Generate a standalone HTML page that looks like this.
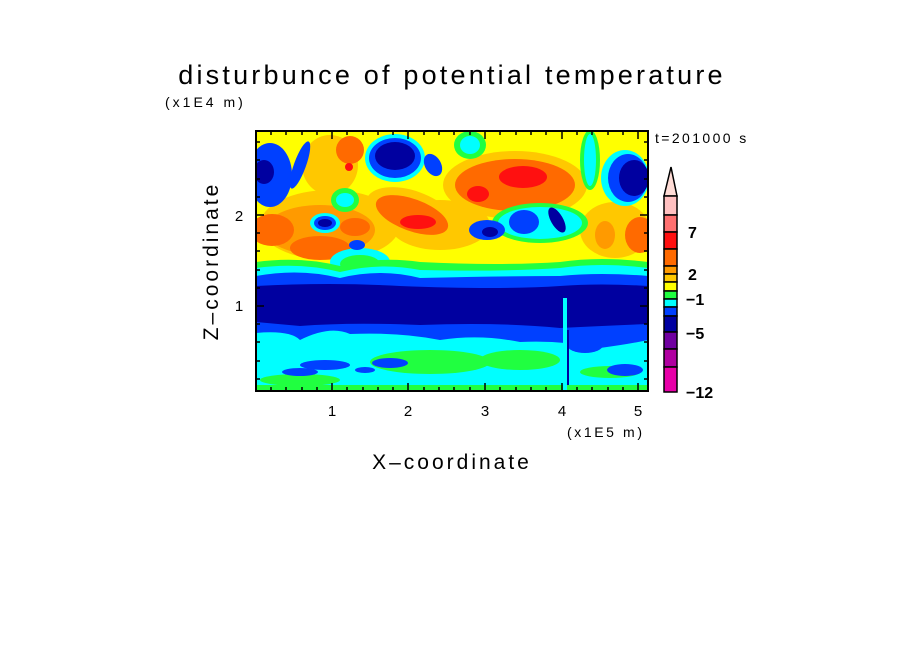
<!DOCTYPE html>
<html><head><meta charset="utf-8"><style>
body{margin:0;background:#fff;width:904px;height:654px;overflow:hidden}
svg{display:block}
text{font-family:"Liberation Sans","DejaVu Sans",sans-serif;fill:#000}
</style></head><body>
<svg width="904" height="654" viewBox="0 0 904 654">
<defs><clipPath id="c"><rect x="256" y="131" width="392" height="260"/></clipPath></defs>
<text x="452" y="84" font-size="27" text-anchor="middle" letter-spacing="3.2">disturbunce of potential temperature</text>
<text x="165" y="107" font-size="14" letter-spacing="3">(x1E4 m)</text>
<text x="655" y="143" font-size="14" letter-spacing="2.4">t=201000 s</text>
<g clip-path="url(#c)">
<rect x="256" y="131" width="392" height="260" fill="#ffff00"/>
<ellipse cx="330" cy="225" rx="70" ry="35" fill="#ffc800"/>
<ellipse cx="320" cy="230" rx="55" ry="25" fill="#ff9a00"/>
<ellipse cx="440" cy="225" rx="50" ry="25" fill="#ffc800"/>
<ellipse cx="615" cy="230" rx="35" ry="28" fill="#ffc800"/>
<ellipse cx="330" cy="165" rx="28" ry="30" fill="#ffc800"/>
<ellipse cx="515" cy="185" rx="72" ry="34" fill="#ffc800"/>
<ellipse cx="515" cy="185" rx="60" ry="26" fill="#ff6a00"/>
<ellipse cx="523" cy="177" rx="24" ry="11" fill="#ff1010"/>
<ellipse cx="478" cy="194" rx="11" ry="8" fill="#ff1010"/>
<ellipse cx="412" cy="215" rx="48" ry="24" fill="#ffc800" transform="rotate(20 412 215)"/>
<ellipse cx="412" cy="215" rx="38" ry="16" fill="#ff6a00" transform="rotate(20 412 215)"/>
<ellipse cx="418" cy="222" rx="18" ry="7" fill="#ff1010"/>
<ellipse cx="350" cy="150" rx="14" ry="14" fill="#ff6a00"/>
<ellipse cx="349" cy="167" rx="4" ry="4" fill="#ff1010"/>
<ellipse cx="395" cy="158" rx="30" ry="24" fill="#00ffff"/>
<ellipse cx="395" cy="158" rx="26" ry="20" fill="#0040ff"/>
<ellipse cx="395" cy="156" rx="20" ry="14" fill="#0000a0"/>
<ellipse cx="470" cy="145" rx="16" ry="14" fill="#20ff40"/>
<ellipse cx="470" cy="145" rx="10" ry="9" fill="#00ffff"/>
<ellipse cx="345" cy="200" rx="14" ry="12" fill="#20ff40"/>
<ellipse cx="345" cy="200" rx="9" ry="7" fill="#00ffff"/>
<ellipse cx="325" cy="223" rx="15" ry="10" fill="#00ffff"/>
<ellipse cx="325" cy="223" rx="11" ry="7" fill="#0040ff"/>
<ellipse cx="325" cy="223" rx="7" ry="4" fill="#0000a0"/>
<ellipse cx="272" cy="230" rx="22" ry="16" fill="#ff6a00"/>
<ellipse cx="320" cy="248" rx="30" ry="12" fill="#ff6a00"/>
<ellipse cx="355" cy="227" rx="15" ry="9" fill="#ff6a00"/>
<ellipse cx="270" cy="175" rx="22" ry="32" fill="#0040ff"/>
<ellipse cx="264" cy="172" rx="10" ry="12" fill="#0000a0"/>
<ellipse cx="300" cy="165" rx="6" ry="25" fill="#0040ff" transform="rotate(20 300 165)"/>
<ellipse cx="540" cy="223" rx="48" ry="20" fill="#20ff40"/>
<ellipse cx="540" cy="223" rx="42" ry="16" fill="#00ffff"/>
<ellipse cx="487" cy="230" rx="18" ry="10" fill="#0040ff"/>
<ellipse cx="490" cy="232" rx="8" ry="5" fill="#0000a0"/>
<ellipse cx="524" cy="222" rx="15" ry="12" fill="#0040ff"/>
<ellipse cx="557" cy="220" rx="6" ry="14" fill="#0000a0" transform="rotate(-30 557 220)"/>
<ellipse cx="433" cy="165" rx="8" ry="12" fill="#0040ff" transform="rotate(-30 433 165)"/>
<ellipse cx="625" cy="178" rx="24" ry="28" fill="#00ffff"/>
<ellipse cx="628" cy="178" rx="20" ry="24" fill="#0040ff"/>
<ellipse cx="634" cy="178" rx="15" ry="18" fill="#0000a0"/>
<ellipse cx="640" cy="235" rx="15" ry="18" fill="#ff6a00"/>
<ellipse cx="590" cy="160" rx="10" ry="30" fill="#20ff40"/>
<ellipse cx="590" cy="160" rx="6" ry="26" fill="#00ffff"/>
<ellipse cx="605" cy="235" rx="10" ry="14" fill="#ff9a00"/>
<ellipse cx="360" cy="262" rx="30" ry="14" fill="#00ffff"/>
<ellipse cx="360" cy="264" rx="20" ry="9" fill="#20ff40"/>
<ellipse cx="357" cy="245" rx="8" ry="5" fill="#0040ff"/>
<path d="M256 262 Q300 256 340 266 Q380 256 420 262 Q500 266 560 262 Q600 256 648 262 L648 391 L256 391Z" fill="#20ff40"/>
<path d="M256 268 Q300 262 340 272 Q380 262 420 270 Q500 272 560 268 Q600 262 648 268 L648 391 L256 391Z" fill="#00ffff"/>
<path d="M256 276 Q300 268 340 278 Q380 268 420 278 Q500 276 560 276 Q600 272 648 276 L648 391 L256 391Z" fill="#0040ff"/>
<path d="M256 286 Q330 282 400 286 Q500 290 560 286 Q600 283 648 286 L648 324 Q600 326 560 328 Q500 322 420 325 Q350 322 300 326 L256 322Z" fill="#0000a0"/>
<path d="M256 333 Q290 330 300 340 Q330 325 350 334 Q400 332 440 340 Q480 334 520 342 Q560 340 600 348 Q630 344 648 340 L648 391 L256 391Z" fill="#00ffff"/>
<ellipse cx="430" cy="362" rx="60" ry="12" fill="#20ff40"/>
<ellipse cx="520" cy="360" rx="40" ry="10" fill="#20ff40"/>
<ellipse cx="610" cy="372" rx="30" ry="6" fill="#20ff40"/>
<ellipse cx="300" cy="380" rx="40" ry="6" fill="#20ff40"/>
<rect x="256" y="385" width="392" height="6" fill="#20ff40"/>
<ellipse cx="325" cy="365" rx="25" ry="5" fill="#0040ff"/>
<ellipse cx="390" cy="363" rx="18" ry="5" fill="#0040ff"/>
<ellipse cx="300" cy="372" rx="18" ry="4" fill="#0040ff"/>
<ellipse cx="625" cy="370" rx="18" ry="6" fill="#0040ff"/>
<ellipse cx="585" cy="345" rx="18" ry="8" fill="#0040ff"/>
<ellipse cx="365" cy="370" rx="10" ry="3" fill="#0040ff"/>
<rect x="563" y="298" width="4" height="93" fill="#00ffff"/>
<rect x="567" y="330" width="2" height="55" fill="#0000a0"/>
</g>
<rect x="256" y="131" width="392" height="260" fill="none" stroke="#000" stroke-width="2"/>
<g stroke="#000" stroke-width="1.5">
<path d="M271 391v-4M286 391v-4M302 391v-4M317 391v-4M347 391v-4M363 391v-4M378 391v-4M393 391v-4M424 391v-4M439 391v-4M454 391v-4M470 391v-4M500 391v-4M516 391v-4M531 391v-4M546 391v-4M577 391v-4M592 391v-4M608 391v-4M623 391v-4"/>
<path d="M271 131v4M286 131v4M302 131v4M317 131v4M347 131v4M363 131v4M378 131v4M393 131v4M424 131v4M439 131v4M454 131v4M470 131v4M500 131v4M516 131v4M531 131v4M546 131v4M577 131v4M592 131v4M608 131v4M623 131v4"/>
<path d="M332 391v-8M408 391v-8M485 391v-8M562 391v-8M638 391v-8M332 131v8M408 131v8M485 131v8M562 131v8M638 131v8"/>
<path d="M256 379h4M256 361h4M256 342h4M256 324h4M256 288h4M256 270h4M256 251h4M256 233h4M256 197h4M256 179h4M256 160h4M256 142h4"/>
<path d="M648 379h-4M648 361h-4M648 342h-4M648 324h-4M648 288h-4M648 270h-4M648 251h-4M648 233h-4M648 197h-4M648 179h-4M648 160h-4M648 142h-4"/>
<path d="M256 306h8M256 215h8M648 306h-8M648 215h-8"/>
</g>
<g font-size="15" text-anchor="middle">
<text x="332" y="416">1</text><text x="408" y="416">2</text><text x="485" y="416">3</text><text x="562" y="416">4</text><text x="638" y="416">5</text>
<text x="239" y="311">1</text><text x="239" y="221">2</text>
</g>
<text x="567" y="437" font-size="14" letter-spacing="2.6">(x1E5 m)</text>
<text x="452" y="469" font-size="21" text-anchor="middle" letter-spacing="3">X–coordinate</text>
<text x="0" y="0" font-size="21" text-anchor="middle" letter-spacing="3" transform="translate(218 261) rotate(-90)">Z–coordinate</text>
<g stroke="#000" stroke-width="1.5">
<path d="M671 167 L677 196 L664 196Z" fill="#ffdcd6"/>
<rect x="664" y="196" width="13" height="19" fill="#ffc0c0"/>
<rect x="664" y="215" width="13" height="17" fill="#ff7070"/>
<rect x="664" y="232" width="13" height="17" fill="#ff1010"/>
<rect x="664" y="249" width="13" height="17" fill="#ff6a00"/>
<rect x="664" y="266" width="13" height="8" fill="#ff9a00"/>
<rect x="664" y="274" width="13" height="8" fill="#ffc800"/>
<rect x="664" y="282" width="13" height="9" fill="#ffff00"/>
<rect x="664" y="291" width="13" height="8" fill="#20ff40"/>
<rect x="664" y="299" width="13" height="8" fill="#00ffff"/>
<rect x="664" y="307" width="13" height="9" fill="#0040ff"/>
<rect x="664" y="316" width="13" height="16" fill="#0000a0"/>
<rect x="664" y="332" width="13" height="17" fill="#7000a0"/>
<rect x="664" y="349" width="13" height="18" fill="#b000a0"/>
<rect x="664" y="367" width="13" height="25" fill="#e800a8"/>
</g>
<g font-size="16" font-weight="bold">
<text x="688" y="238">7</text><text x="688" y="280">2</text><text x="686" y="305">−1</text><text x="686" y="339">−5</text><text x="686" y="398">−12</text>
</g>
</svg>
</body></html>
